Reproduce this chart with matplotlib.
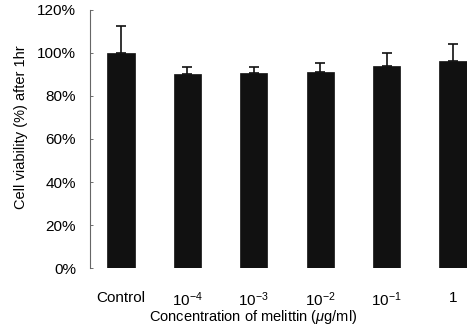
import matplotlib
matplotlib.use("Agg")
import matplotlib.pyplot as plt
from matplotlib.ticker import FuncFormatter

plt.rcParams['font.family'] = ['Liberation Sans', 'DejaVu Sans']
plt.rcParams['mathtext.fontset'] = 'custom'
plt.rcParams['mathtext.rm'] = 'Liberation Sans'
plt.rcParams['mathtext.it'] = 'Liberation Sans:italic'

categories = ['Control', '$10^{-4}$', '$10^{-3}$', '$10^{-2}$', '$10^{-1}$', '1']
viability = [100.0, 90.0, 90.7, 91.2, 94.0, 96.2]
err_upper = [12.4, 3.5, 2.8, 4.2, 6.0, 7.7]

fig = plt.figure(figsize=(4.67, 3.29), dpi=100)
ax = fig.add_axes([90 / 467, 0.1845, 1 - 90 / 467, 0.971 - 0.1845])

x = list(range(len(categories)))
ax.bar(x, viability, width=0.41, color='#111111', edgecolor='#111111', linewidth=0.5, zorder=2)
ax.errorbar(x, viability, yerr=[[0] * len(x), err_upper], fmt='none', ecolor='#111111',
            elinewidth=1.2, capsize=3.5, capthick=1.2, zorder=3)

ax.set_xlim(-0.467, 5.21)
ax.set_ylim(0, 120)
ax.set_yticks(range(0, 121, 20))
ax.yaxis.set_major_formatter(FuncFormatter(lambda v, p: f"{int(v)}%"))
ax.set_xticks(x)
ax.set_xticklabels(categories)

for s in ['top', 'right', 'bottom']:
    ax.spines[s].set_visible(False)
ax.spines['left'].set_color('#666666')
ax.spines['left'].set_linewidth(0.8)
ax.spines['left'].set_linestyle((0, (4, 1)))

ax.tick_params(axis='y', direction='in', length=2, width=0.6, color='#555555', pad=10, labelsize=11)
ax.tick_params(axis='x', length=0, pad=16, labelsize=11)

ax.set_ylabel('Cell viability (%) after 1hr', fontsize=10.5)
ax.yaxis.set_label_coords(-0.165, 0.545)
ax.set_xlabel(r'Concentration of melittin ($\mu$g/ml)', fontsize=10.5)
ax.xaxis.set_label_coords(0.434, -0.155)

fig.savefig('out.png', dpi=100)
